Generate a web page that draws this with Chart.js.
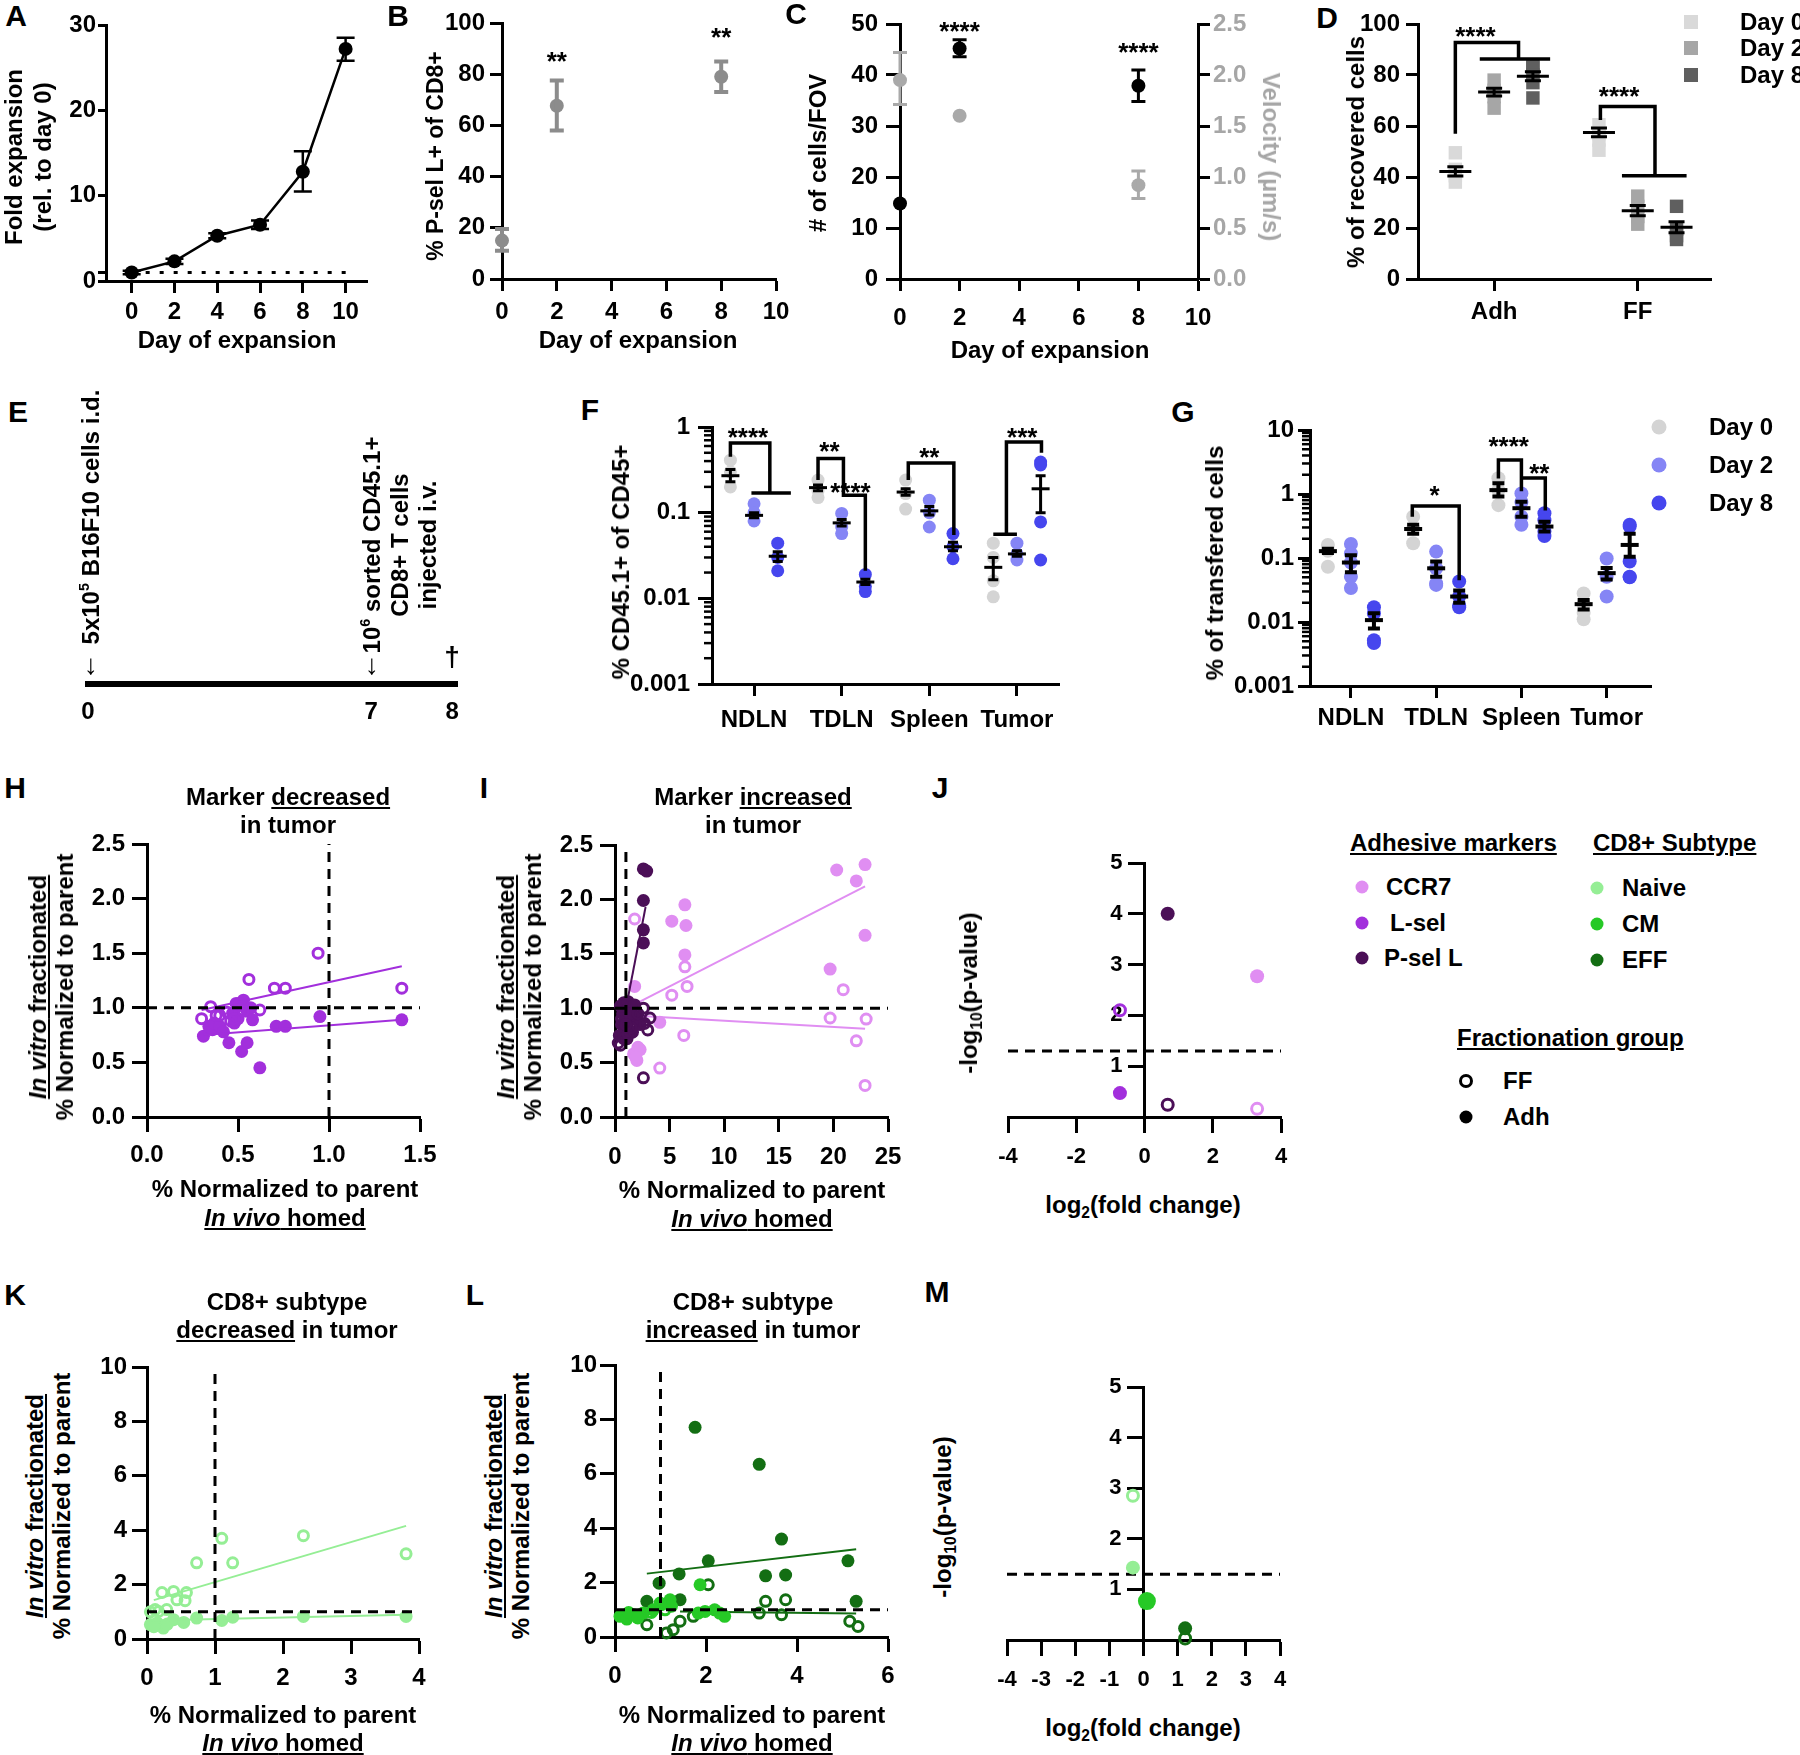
<!DOCTYPE html>
<html>
<head>
<meta charset="utf-8">
<title>T cell expansion and homing figure</title>
<script src="https://cdn.jsdelivr.net/npm/chart.js"></script>
<style>
  html, body { margin: 0; padding: 0; background: #fff; }
  #fig { position: relative; width: 1800px; height: 1755px; overflow: hidden;
         font-family: 'Liberation Sans', Arial, Helvetica, sans-serif; font-weight: bold; font-size: 24px; color: #000; }
  canvas { position: absolute; }
  .t { position: absolute; white-space: nowrap; text-align: center; line-height: 1; transform: translate(-50%, -50%); }
  .l { position: absolute; white-space: nowrap; line-height: 1; transform: translate(0, -50%); }
  .up { transform: translate(-50%, -50%) rotate(-90deg); }
  .down { transform: translate(-50%, -50%) rotate(90deg); }
  .lt { font-size: 30px; }
  .sq, .dot, .ring { position: absolute; transform: translate(-50%, -50%); }
  .sq { width: 14px; height: 14px; }
  .dot { width: 13px; height: 13px; border-radius: 50%; }
  .ring { width: 8px; height: 8px; border: 3px solid #000; border-radius: 50%; }
  sub { font-size: 0.65em; vertical-align: -0.3em; line-height: 0; }
  sup { font-size: 0.6em; vertical-align: 0.7em; line-height: 0; }
</style>
</head>
<body>
<div id="fig">
  <canvas id="cA"></canvas><canvas id="cB"></canvas><canvas id="cC"></canvas><canvas id="cD"></canvas>
  <canvas id="cE"></canvas><canvas id="cF"></canvas><canvas id="cG"></canvas>
  <canvas id="cH"></canvas><canvas id="cI"></canvas><canvas id="cJ"></canvas>
  <canvas id="cK"></canvas><canvas id="cL"></canvas><canvas id="cM"></canvas>

  <!-- panel letters -->
  <div class="t lt" style="left:16px;top:16px">A</div>
  <div class="t lt" style="left:398px;top:16px">B</div>
  <div class="t lt" style="left:796px;top:14px">C</div>
  <div class="t lt" style="left:1327px;top:18px">D</div>
  <div class="t lt" style="left:18px;top:412px">E</div>
  <div class="t lt" style="left:590px;top:410px">F</div>
  <div class="t lt" style="left:1183px;top:412px">G</div>
  <div class="t lt" style="left:15px;top:788px">H</div>
  <div class="t lt" style="left:484px;top:788px">I</div>
  <div class="t lt" style="left:940px;top:788px">J</div>
  <div class="t lt" style="left:15px;top:1295px">K</div>
  <div class="t lt" style="left:475px;top:1295px">L</div>
  <div class="t lt" style="left:937px;top:1292px">M</div>

  <!-- row 1 axis titles -->
  <div class="t up" style="left:28px;top:157px;line-height:29px">Fold expansion<br>(rel. to day 0)</div>
  <div class="t" style="left:237px;top:340px">Day of expansion</div>
  <div class="t up" style="left:435px;top:156px;font-size:23px">% P-sel L+ of CD8+</div>
  <div class="t" style="left:638px;top:340px">Day of expansion</div>
  <div class="t up" style="left:818px;top:153px"># of cells/FOV</div>
  <div class="t down" style="left:1271px;top:157px;color:#a6a6a6">Velocity (µm/s)</div>
  <div class="t" style="left:1050px;top:350px">Day of expansion</div>
  <div class="t up" style="left:1356px;top:152px">% of recovered cells</div>
  <div class="sq" style="left:1691px;top:22px;background:#d9d9d9"></div><div class="l" style="left:1740px;top:22px">Day 0</div>
  <div class="sq" style="left:1691px;top:48px;background:#a6a6a6"></div><div class="l" style="left:1740px;top:48px">Day 2</div>
  <div class="sq" style="left:1691px;top:75px;background:#5f5f5f"></div><div class="l" style="left:1740px;top:75px">Day 8</div>

  <!-- row 2 -->
  <div class="t up" style="left:91px;top:517px">5x10<sup>5</sup> B16F10 cells i.d.</div>
  <div class="t up" style="left:400px;top:545px;line-height:28px">10<sup>6</sup> sorted CD45.1+<br>CD8+ T cells<br>injected i.v.</div>
  <div class="t" style="left:91px;top:665px;font-weight:normal;font-size:28px">↓</div>
  <div class="t" style="left:372px;top:665px;font-weight:normal;font-size:28px">↓</div>
  <div class="t" style="left:452px;top:657px;font-size:28px">†</div>
  <div class="t up" style="left:621px;top:562px">% CD45.1+ of CD45+</div>
  <div class="t up" style="left:1215px;top:563px">% of transfered cells</div>
  <div class="dot" style="left:1659px;top:427px;background:#d4d4d4;width:15px;height:15px"></div><div class="l" style="left:1709px;top:427px">Day 0</div>
  <div class="dot" style="left:1659px;top:465px;background:#8585f5;width:15px;height:15px"></div><div class="l" style="left:1709px;top:465px">Day 2</div>
  <div class="dot" style="left:1659px;top:503px;background:#4646ee;width:15px;height:15px"></div><div class="l" style="left:1709px;top:503px">Day 8</div>

  <!-- row 3 -->
  <div class="t" style="left:288px;top:811px;line-height:28px">Marker <u>decreased</u><br>in tumor</div>
  <div class="t" style="left:285px;top:1203px;line-height:29px">% Normalized to parent<br><u><i>In vivo</i> homed</u></div>
  <div class="t up" style="left:51px;top:987px;line-height:27px"><u><i>In vitro</i> fractionated</u><br>% Normalized to parent</div>
  <div class="t" style="left:753px;top:811px;line-height:28px">Marker <u>increased</u><br>in tumor</div>
  <div class="t" style="left:752px;top:1204px;line-height:29px">% Normalized to parent<br><u><i>In vivo</i> homed</u></div>
  <div class="t up" style="left:519px;top:987px;line-height:27px"><u><i>In vitro</i> fractionated</u><br>% Normalized to parent</div>
  <div class="t up" style="left:969px;top:993px">-log<sub>10</sub>(p-value)</div>
  <div class="t" style="left:1143px;top:1205px">log<sub>2</sub>(fold change)</div>

  <div class="l" style="left:1350px;top:843px"><u>Adhesive markers</u></div>
  <div class="dot" style="left:1362px;top:887px;background:#e08ef2"></div><div class="l" style="left:1386px;top:887px">CCR7</div>
  <div class="dot" style="left:1362px;top:923px;background:#a22fdc"></div><div class="l" style="left:1390px;top:923px">L-sel</div>
  <div class="dot" style="left:1362px;top:958px;background:#4b0f57"></div><div class="l" style="left:1384px;top:958px">P-sel L</div>
  <div class="l" style="left:1593px;top:843px"><u>CD8+ Subtype</u></div>
  <div class="dot" style="left:1597px;top:888px;background:#95ee95"></div><div class="l" style="left:1622px;top:888px">Naive</div>
  <div class="dot" style="left:1597px;top:924px;background:#26c926"></div><div class="l" style="left:1622px;top:924px">CM</div>
  <div class="dot" style="left:1597px;top:960px;background:#136e13"></div><div class="l" style="left:1622px;top:960px">EFF</div>
  <div class="l" style="left:1457px;top:1038px"><u>Fractionation group</u></div>
  <div class="ring" style="left:1466px;top:1081px"></div><div class="l" style="left:1503px;top:1081px">FF</div>
  <div class="dot" style="left:1466px;top:1117px;background:#000"></div><div class="l" style="left:1503px;top:1117px">Adh</div>

  <!-- row 4 -->
  <div class="t" style="left:287px;top:1316px;line-height:28px">CD8+ subtype<br><u>decreased</u> in tumor</div>
  <div class="t" style="left:283px;top:1729px;line-height:28px">% Normalized to parent<br><u><i>In vivo</i> homed</u></div>
  <div class="t up" style="left:48px;top:1506px;line-height:27px"><u><i>In vitro</i> fractionated</u><br>% Normalized to parent</div>
  <div class="t" style="left:753px;top:1316px;line-height:28px">CD8+ subtype<br><u>increased</u> in tumor</div>
  <div class="t" style="left:752px;top:1729px;line-height:28px">% Normalized to parent<br><u><i>In vivo</i> homed</u></div>
  <div class="t up" style="left:507px;top:1506px;line-height:27px"><u><i>In vitro</i> fractionated</u><br>% Normalized to parent</div>
  <div class="t up" style="left:943px;top:1517px">-log<sub>10</sub>(p-value)</div>
  <div class="t" style="left:1143px;top:1728px">log<sub>2</sub>(fold change)</div>
</div>

<script>
// ---------------- data ----------------
// A: fold expansion
const expDays = [0, 2, 4, 6, 8, 10];
const foldMean = [1.0, 2.3, 5.3, 6.6, 12.8, 27.2];
const foldLow = [0.8, 2.0, 5.0, 6.1, 10.5, 25.8];
const foldHigh = [1.2, 2.6, 5.6, 7.1, 15.2, 28.5];
const foldRef = 1;

// B: % P-sel L+
const pselDays = [0, 2, 8];
const pselMean = [15, 67.7, 79];
const pselLow = [11, 58, 73];
const pselHigh = [19.5, 77.5, 85];
const pselStars = [[2, 87, '**'], [8, 96.5, '**']];

// C: cells/FOV (left) and velocity (right)
const flowDays = [0, 2, 8];
const cellsMean = [14.8, 45.2, 37.9];
const cellsLow = [14.8, 43.6, 34.8];
const cellsHigh = [14.8, 46.9, 41.0];
const veloMean = [1.95, 1.6, 0.92];
const veloLow = [1.71, 1.6, 0.79];
const veloHigh = [2.22, 1.6, 1.06];
const flowStars = [[2, 49.5, '****'], [8, 45.5, '****']];

// D: % recovered cells, groups Adh / FF, days 0, 2, 8
const fracGroups = ['Adh', 'FF'];
const recDay0 = [[49.5, 43, 40.5, 38], [60.5, 57, 54.5, 50.5]];
const recDay2 = [[78, 74, 71.5, 67], [32.5, 28.5, 24.5, 21.5]];
const recDay8 = [[83.5, 83, 80, 77, 71], [28.5, 19.5, 17, 15.5]];
const recMean = [[42.2, 73.3, 79.5], [57.5, 26.8, 20.3]];
const recSem = [[1.8, 1.5, 1.8], [1.7, 2.0, 2.2]];
const recBrackets = [
  [[0.73, 57], [0.73, 92.7], [1.17, 92.7], [1.17, 86.3]], [[0.9, 86.3], [1.39, 86.3]],
  [[1.74, 62.4], [1.74, 67.6], [2.12, 67.6], [2.12, 40.5]], [[1.89, 40.5], [2.34, 40.5]]
];
const recStars = [[0.87, 97, '****'], [1.87, 73.5, '****']];

// E: timeline
const eventLabels = ['0', '7', '8'];
const eventSlots = [0, 7, 9]; // schematic spacing as drawn

// F, G: organs x days
const organs = ['NDLN', 'TDLN', 'Spleen', 'Tumor'];
const dayOffset = [-0.27, 0, 0.27];
const fDay0 = [[0.41, 0.30, 0.20], [0.24, 0.18, 0.15], [0.24, 0.167, 0.11], [0.044, 0.03, 0.016, 0.0104]];
const fDay2 = [[0.127, 0.10, 0.08], [0.098, 0.068, 0.057], [0.14, 0.10, 0.068], [0.044, 0.033, 0.028]];
const fDay8 = [[0.044, 0.03, 0.021], [0.019, 0.0137, 0.012], [0.057, 0.04, 0.029], [0.39, 0.36, 0.078, 0.028]];
const fMean = [[0.27, 0.093, 0.031], [0.196, 0.076, 0.0155], [0.174, 0.105, 0.04], [0.023, 0.033, 0.19]];
const fLow = [[0.23, 0.087, 0.027], [0.18, 0.07, 0.0145], [0.16, 0.094, 0.036], [0.0165, 0.031, 0.10]];
const fHigh = [[0.32, 0.10, 0.035], [0.21, 0.083, 0.0167], [0.19, 0.118, 0.045], [0.03, 0.036, 0.27]];
const fBrackets = [
  [[0.73, 0.45], [0.73, 0.65], [1.18, 0.65], [1.18, 0.17]], [[0.97, 0.17], [1.42, 0.17]],
  [[1.73, 0.24], [1.73, 0.43], [2.02, 0.43], [2.02, 0.16], [2.27, 0.16], [2.27, 0.021]],
  [[2.76, 0.24], [2.76, 0.38], [3.28, 0.38], [3.28, 0.055]],
  [[3.73, 0.056], [4.0, 0.056]], [[3.88, 0.056], [3.88, 0.67], [4.28, 0.67], [4.28, 0.5]]
];
const fStars = [[0.93, 0.87, '****'], [1.86, 0.6, '**'], [2.1, 0.2, '****'], [3.0, 0.5, '**'], [4.06, 0.87, '***']];

const gDay0 = [[0.16, 0.13, 0.073], [0.44, 0.29, 0.17], [1.76, 1.15, 0.67], [0.028, 0.019, 0.014, 0.011]];
const gDay2 = [[0.166, 0.118, 0.085, 0.051, 0.034], [0.126, 0.069, 0.04, 0.038], [1.02, 0.75, 0.44, 0.33], [0.098, 0.051, 0.025]];
const gDay8 = [[0.017, 0.0136, 0.0052, 0.0047], [0.043, 0.025, 0.017, 0.018], [0.5, 0.39, 0.26, 0.22], [0.33, 0.31, 0.088, 0.051, 0.05]];
const gMean = [[0.128, 0.085, 0.0107], [0.284, 0.069, 0.025], [1.15, 0.6, 0.31], [0.019, 0.058, 0.16]];
const gLow = [[0.12, 0.06, 0.0079], [0.24, 0.051, 0.02], [0.91, 0.44, 0.26], [0.0157, 0.046, 0.105]];
const gHigh = [[0.14, 0.11, 0.0137], [0.33, 0.088, 0.031], [1.47, 0.76, 0.37], [0.022, 0.07, 0.24]];
const gBrackets = [
  [[1.72, 0.44], [1.72, 0.65], [2.27, 0.65], [2.27, 0.045]],
  [[2.73, 1.75], [2.73, 3.4], [3.0, 3.4], [3.0, 1.1]],
  [[3.0, 1.78], [3.28, 1.78], [3.28, 0.55]]
];
const gStars = [[1.98, 1.15, '*'], [2.85, 6.6, '****'], [3.21, 2.5, '**']];

// H: L-sel (marker decreased in tumor)
const hFFx = [0.30, 0.35, 0.38, 0.40, 0.44, 0.46, 0.48, 0.51, 0.53, 0.56, 0.62, 0.70, 0.76, 0.94, 1.40];
const hFFy = [0.90, 1.01, 0.93, 0.93, 0.96, 0.88, 0.90, 1.04, 0.97, 1.26, 0.98, 1.18, 1.18, 1.50, 1.18];
const hAdhx = [0.31, 0.34, 0.36, 0.37, 0.40, 0.42, 0.45, 0.47, 0.48, 0.49, 0.50, 0.52, 0.52, 0.53, 0.55, 0.55, 0.57, 0.58, 0.62, 0.71, 0.76, 0.95, 1.40];
const hAdhy = [0.74, 0.83, 0.80, 0.86, 0.83, 0.78, 0.68, 0.95, 0.86, 1.04, 0.90, 0.60, 1.02, 1.07, 0.68, 0.97, 1.00, 0.89, 0.45, 0.83, 0.83, 0.92, 0.89];
const hFitFF = [[0.30, 0.98], [1.40, 1.38]];
const hFitAdh = [[0.31, 0.75], [1.40, 0.89]];

// I: CCR7 and P-sel L (marker increased in tumor)
const iPselAdhx = [2.6, 2.9, 2.6, 2.6, 2.6, 0.5, 0.8, 1.0, 1.2, 1.5, 1.8, 0.6, 0.9, 1.3, 1.6, 2.0, 2.3, 0.4, 1.1, 0.7, 1.4];
const iPselAdhy = [2.28, 2.26, 1.99, 1.72, 1.60, 1.02, 1.05, 0.98, 1.06, 1.00, 1.03, 0.85, 0.80, 0.88, 0.78, 0.92, 0.85, 0.75, 0.72, 0.95, 0.95];
const iPselFFx = [0.3, 0.5, 0.8, 1.2, 1.5, 2.6, 3.2, 3.0, 2.7, 2.1, 2.6, 0.6, 1.0];
const iPselFFy = [0.68, 0.66, 0.72, 0.76, 0.82, 1.00, 0.91, 0.80, 0.86, 0.95, 0.36, 0.90, 0.85];
const iCcrAdhx = [1.8, 5.2, 6.4, 6.5, 6.4, 20.3, 22.1, 22.9, 22.9, 19.7, 4.1, 1.7, 2.0, 2.3, 2.1, 1.9];
const iCcrAdhy = [1.20, 1.80, 1.95, 1.76, 1.49, 2.27, 2.17, 2.32, 1.67, 1.36, 0.87, 0.58, 0.52, 0.62, 0.64, 0.55];
const iCcrFFx = [1.8, 5.2, 6.4, 6.6, 6.3, 4.1, 20.9, 19.7, 23.0, 22.1, 22.9];
const iCcrFFy = [1.82, 1.12, 1.38, 1.20, 0.75, 0.45, 1.17, 0.91, 0.90, 0.70, 0.29];
const iFitPsel = [[1.0, 1.0], [2.8, 1.93]];
const iFitCcrAdh = [[1.7, 1.03], [22.9, 2.12]];
const iFitCcrFF = [[2.0, 0.93], [22.9, 0.81]];

// J: volcano, adhesive markers (CCR7, L-sel, P-sel L)
const jAdhX = [3.3, -0.72, 0.68];
const jAdhY = [2.77, 0.47, 4.0];
const jFFX = [3.3, -0.72, 0.68];
const jFFY = [0.16, 2.1, 0.24];
const pCut = 1.3;
const volcYTicks = ['1', '2', '3', '4', '5'];

// K: naive (subtype decreased in tumor)
const kFFx = [1.10, 2.30, 0.73, 1.26, 3.81, 0.22, 0.39, 0.58, 0.44, 0.56, 0.12, 0.17, 0.29, 0.05];
const kFFy = [3.70, 3.80, 2.80, 2.80, 3.13, 1.71, 1.75, 1.71, 1.44, 1.41, 1.08, 1.01, 1.08, 1.00];
const kAdhx = [0.05, 0.15, 0.24, 0.39, 0.54, 0.73, 1.10, 1.26, 2.30, 3.81, 0.10, 0.30];
const kAdhy = [0.53, 0.59, 0.40, 0.71, 0.61, 0.77, 0.68, 0.80, 0.83, 0.83, 0.45, 0.55];
const kFitFF = [[0.1, 1.43], [3.81, 4.16]];
const kFitAdh = [[0.05, 0.68], [3.81, 0.89]];

// L: CM and EFF (subtype increased in tumor)
const lEffAdhx = [1.76, 3.17, 3.66, 2.05, 1.41, 3.31, 3.75, 0.97, 5.12, 5.30, 1.43, 0.70];
const lEffAdhy = [7.71, 6.35, 3.60, 2.80, 2.32, 2.25, 2.28, 1.98, 2.80, 1.31, 1.37, 1.31];
const lEffFFx = [2.05, 3.31, 3.75, 3.17, 3.66, 5.16, 5.34, 1.13, 1.28, 1.43, 0.70, 1.72];
const lEffFFy = [1.92, 1.31, 1.37, 0.88, 0.82, 0.58, 0.39, 0.15, 0.27, 0.58, 0.45, 0.76];
const lCmAdhx = [1.87, 0.11, 0.26, 0.40, 0.62, 0.84, 1.02, 1.21, 1.24, 1.83, 1.98, 2.19, 2.41, 2.30, 0.30, 0.50];
const lCmAdhy = [1.92, 0.76, 0.66, 0.82, 0.88, 1.00, 1.19, 1.37, 1.13, 0.88, 0.94, 1.00, 0.76, 0.88, 0.90, 0.70];
const lCmFFx = [0.99, 0.80, 1.10];
const lCmFFy = [1.25, 0.90, 1.00];
const lFitAdh = [[0.70, 2.33], [5.30, 3.23]];
const lFitFF = [[1.43, 0.94], [5.30, 0.86]];

// M: volcano, subtypes (Naive, CM, EFF)
const mAdhX = [-0.31, 0.1, 1.22];
const mAdhY = [1.43, 0.77, 0.23];
const mFFX = [-0.31, 1.22];
const mFFY = [2.85, 0.03];

// ---------------- colours ----------------
const recCol = ['#d9d9d9', '#a6a6a6', '#5f5f5f'];
const dayCol = ['#d4d4d4', '#8585f5', '#4646ee'];
const CCR7 = '#e08ef2', LSEL = '#a22fdc', PSEL = '#4b0f57';
const NAIVE = '#95ee95', CM = '#26c926', EFF = '#136e13';

// ---------------- chart setup ----------------
const FONT = "'Liberation Sans', Arial, Helvetica, sans-serif";
Chart.defaults.font.family = FONT;
Chart.defaults.font.weight = 'bold';
Chart.defaults.color = '#000';
Chart.defaults.animation = false;
Chart.defaults.plugins.legend.display = false;
Chart.defaults.plugins.tooltip.enabled = false;

// vertical error bars with caps, read from dataset.errLow / errHigh
const errorBars = {
  id: 'errorBars',
  afterDatasetsDraw(chart) {
    const ctx = chart.ctx;
    chart.data.datasets.forEach((ds, i) => {
      if (!ds.errLow) return;
      const meta = chart.getDatasetMeta(i);
      const ys = chart.scales[meta.yAxisID];
      ctx.save();
      ctx.strokeStyle = ds.errColor;
      ctx.lineWidth = ds.errWidth;
      meta.data.forEach((el, j) => {
        const lo = ds.errLow[j], hi = ds.errHigh[j];
        if (lo === hi) return;
        const x = el.x, y1 = ys.getPixelForValue(lo), y2 = ys.getPixelForValue(hi), c = ds.errCap;
        ctx.beginPath();
        ctx.moveTo(x, y1); ctx.lineTo(x, y2);
        ctx.moveTo(x - c, y1); ctx.lineTo(x + c, y1);
        ctx.moveTo(x - c, y2); ctx.lineTo(x + c, y2);
        ctx.stroke();
      });
      ctx.restore();
    });
  }
};

// significance asterisks placed at data points
const starLabels = {
  id: 'starLabels',
  afterDatasetsDraw(chart) {
    const ctx = chart.ctx;
    chart.data.datasets.forEach((ds, i) => {
      if (!ds.starText) return;
      const meta = chart.getDatasetMeta(i);
      ctx.save();
      ctx.font = 'bold ' + ds.starSize + 'px ' + FONT;
      ctx.fillStyle = '#000';
      ctx.textAlign = 'center';
      ctx.textBaseline = 'middle';
      meta.data.forEach((el, j) => ctx.fillText(ds.starText[j], el.x, el.y + ds.starSize * 0.25));
      ctx.restore();
    });
  }
};

// short minor ticks on log axes
const minorTicks = {
  id: 'minorTicks',
  afterDraw(chart) {
    const s = chart.scales.y;
    if (!s || s.type !== 'logarithmic') return;
    const ctx = chart.ctx;
    const x = chart.chartArea.left;
    ctx.save();
    ctx.strokeStyle = '#000';
    ctx.lineWidth = 2.5;
    for (let e = Math.round(Math.log10(s.min)); e < Math.round(Math.log10(s.max)); e++) {
      for (let k = 2; k <= 9; k++) {
        const y = s.getPixelForValue(k * Math.pow(10, e));
        ctx.beginPath(); ctx.moveTo(x, y); ctx.lineTo(x - 8, y); ctx.stroke();
      }
    }
    ctx.restore();
  }
};
Chart.register(errorBars, starLabels, minorTicks);

function ax(o) {
  const s = {
    type: o.type || 'linear', min: o.min, max: o.max,
    afterBuildTicks: sc => { sc.ticks = o.ticks.map(v => ({ value: v })); },
    border: { display: true, width: o.bw || 3, color: '#000' },
    grid: { display: true, drawOnChartArea: false, drawTicks: o.tl !== 0,
            tickLength: o.tl === undefined ? 12 : o.tl, tickWidth: 3, tickColor: '#000' },
    ticks: { autoSkip: false, maxRotation: 0, minRotation: 0,
             padding: o.pad === undefined ? 4 : o.pad, color: o.color || '#000',
             font: { size: o.size || 24, weight: 'bold' },
             callback: (v, i) => (o.labels ? o.labels[i] : String(v)) }
  };
  if (o.position) s.position = o.position;
  return s;
}

function xy(xs, ys) { return xs.map((x, i) => ({ x, y: ys[i] })); }
function pairs(list) { return list.map(p => ({ x: p[0], y: p[1] })); }

function dots(data, color, r, open, style) {
  return { type: 'scatter', data, pointStyle: style || 'circle',
           pointRadius: open ? r - 1.5 : r,
           pointBackgroundColor: open ? 'rgba(255,255,255,0)' : color,
           pointBorderColor: color, pointBorderWidth: open ? 3 : 0, clip: false };
}
function path(data, color, w, dash) {
  return { type: 'scatter', showLine: true, data, borderColor: color, borderWidth: w,
           borderDash: dash || [], pointRadius: 0, pointHoverRadius: 0, clip: false, tension: 0 };
}
function stars(list, size) {
  return { type: 'scatter', data: list.map(s => ({ x: s[0], y: s[1] })), starText: list.map(s => s[2]),
           starSize: size || 26, pointRadius: 0, clip: false };
}
function groupDots(groups, d, color, r, style) {
  const data = [];
  groups.forEach((vals, g) => vals.forEach(v => data.push({ x: g + 1 + dayOffset[d], y: v })));
  return dots(data, color, r, false, style);
}
function meanBars(means, lows, highs, halfW, cap, lw) {
  const data = [], lo = [], hi = [];
  means.forEach((row, g) => row.forEach((m, d) => {
    data.push({ x: g + 1 + dayOffset[d], y: m });
    lo.push(lows[g][d]); hi.push(highs[g][d]);
  }));
  return { type: 'scatter', data, pointStyle: 'line', pointRadius: halfW, pointBorderWidth: lw,
           pointBorderColor: '#000', errLow: lo, errHigh: hi, errCap: cap, errWidth: lw,
           errColor: '#000', clip: false };
}
function withErr(ds, lo, hi, cap, w, color) {
  return Object.assign(ds, { errLow: lo, errHigh: hi, errCap: cap, errWidth: w, errColor: color });
}

// place a canvas so that its chart area lands on the given box
function build(id, area, config, o) {
  const yw = o.yw || 0, yr = o.yr || 0, xh = o.xh || 70;
  const pl = o.pl || 0, pt = o.pt || 30, pr = o.pr || 30;
  const W = Math.round(area.r - area.l + pl + yw + yr + pr);
  const H = Math.round(area.b - area.t + pt + xh);
  const c = document.getElementById(id);
  c.style.left = (area.l - pl - yw) + 'px';
  c.style.top = (area.t - pt) + 'px';
  c.style.width = W + 'px';
  c.style.height = H + 'px';
  c.width = W; c.height = H;
  const sc = config.options.scales;
  if (sc.x) sc.x.afterFit = s => { s.height = xh; };
  if (sc.y && yw) sc.y.afterFit = s => { s.width = yw; };
  if (sc.y2) sc.y2.afterFit = s => { s.width = yr; };
  config.options.responsive = false;
  config.options.devicePixelRatio = 1;
  config.options.layout = { padding: { left: pl, top: pt, right: pr, bottom: 0 } };
  return new Chart(c, config);
}

// ---------------- A ----------------
build('cA', { l: 106, t: 25, r: 367, b: 281 }, {
  type: 'scatter',
  data: { datasets: [
    withErr(dots(xy(expDays, foldMean), '#000', 7), foldLow, foldHigh, 9, 2.5, '#000'),
    path(xy(expDays, foldMean), '#000', 2.5),
    path(pairs([[0, foldRef], [10.2, foldRef]]), '#000', 3, [4, 10])
  ] },
  options: { scales: {
    x: ax({ min: -1.2, max: 11, ticks: [0, 2, 4, 6, 8, 10], pad: 5 }),
    y: ax({ min: 0, max: 30, ticks: [0, 1, 10, 20, 30], labels: ['0', '', '10', '20', '30'], tl: 8, pad: 2 })
  } }
}, { yw: 70 });

// ---------------- B ----------------
build('cB', { l: 502, t: 23, r: 776, b: 279 }, {
  type: 'scatter',
  data: { datasets: [
    stars(pselStars),
    withErr(dots(xy(pselDays, pselMean), '#8c8c8c', 7), pselLow, pselHigh, 7, 4, '#8c8c8c')
  ] },
  options: { scales: {
    x: ax({ min: 0, max: 10, ticks: [0, 2, 4, 6, 8, 10], pad: 7 }),
    y: ax({ min: 0, max: 100, ticks: [0, 20, 40, 60, 80, 100], pad: 5 })
  } }
}, { yw: 70 });

// ---------------- C ----------------
build('cC', { l: 900, t: 24, r: 1198, b: 279 }, {
  type: 'scatter',
  data: { datasets: [
    stars(flowStars),
    withErr(dots(xy(flowDays, cellsMean), '#000', 7), cellsLow, cellsHigh, 7, 3, '#000'),
    Object.assign(withErr(dots(xy(flowDays, veloMean), '#a9a9a9', 7), veloLow, veloHigh, 7, 3, '#a9a9a9'), { yAxisID: 'y2' })
  ] },
  options: { scales: {
    x: ax({ min: 0, max: 10, ticks: [0, 2, 4, 6, 8, 10], pad: 13 }),
    y: ax({ min: 0, max: 50, ticks: [0, 10, 20, 30, 40, 50], tl: 14, pad: 8 }),
    y2: ax({ min: 0, max: 2.5, ticks: [0, 0.5, 1, 1.5, 2, 2.5], labels: ['0.0', '0.5', '1.0', '1.5', '2.0', '2.5'],
             position: 'right', color: '#a6a6a6', pad: 3 })
  } }
}, { yw: 70, yr: 70 });

// ---------------- D ----------------
const recLow = recMean.map((row, g) => row.map((m, d) => m - recSem[g][d]));
const recHigh = recMean.map((row, g) => row.map((m, d) => m + recSem[g][d]));
build('cD', { l: 1418, t: 24, r: 1720, b: 279 }, {
  type: 'scatter',
  data: { datasets: [
    stars(recStars),
    meanBars(recMean, recLow, recHigh, 16, 8, 3),
    ...recBrackets.map(b => path(pairs(b), '#000', 3.5)),
    groupDots(recDay8, 2, recCol[2], 9.5, 'rect'),
    groupDots(recDay2, 1, recCol[1], 9.5, 'rect'),
    groupDots(recDay0, 0, recCol[0], 9.5, 'rect')
  ] },
  options: { scales: {
    x: ax({ min: 0.47, max: 2.51, ticks: [1, 2], labels: fracGroups, pad: 7 }),
    y: ax({ min: 0, max: 100, ticks: [0, 20, 40, 60, 80, 100], pad: 6 })
  } }
}, { yw: 75, pr: 10 });

// ---------------- E ----------------
build('cE', { l: 88, t: 640, r: 457, b: 684 }, {
  type: 'scatter',
  data: { datasets: [] },
  options: { scales: {
    x: ax({ min: 0, max: 9.12, ticks: eventSlots, labels: eventLabels, tl: 0, bw: 6, pad: 14 }),
    y: { display: false, min: 0, max: 1 }
  } }
}, { pl: 30, xh: 60 });

// ---------------- F ----------------
build('cF', { l: 712, t: 427, r: 1059, b: 684 }, {
  type: 'scatter',
  data: { datasets: [
    stars(fStars),
    meanBars(fMean, fLow, fHigh, 9, 5, 3),
    ...fBrackets.map(b => path(pairs(b), '#000', 3.5)),
    groupDots(fDay8, 2, dayCol[2], 6.5),
    groupDots(fDay2, 1, dayCol[1], 6.5),
    groupDots(fDay0, 0, dayCol[0], 6.5)
  ] },
  options: { scales: {
    x: ax({ min: 0.52, max: 4.48, ticks: [1, 2, 3, 4], labels: organs, pad: 10 }),
    y: ax({ type: 'logarithmic', min: 0.001, max: 1, ticks: [0.001, 0.01, 0.1, 1],
            labels: ['0.001', '0.01', '0.1', '1'], tl: 14, pad: 8 })
  } }
}, { yw: 95 });

// ---------------- G ----------------
build('cG', { l: 1310, t: 430, r: 1651, b: 686 }, {
  type: 'scatter',
  data: { datasets: [
    stars(gStars),
    meanBars(gMean, gLow, gHigh, 9, 6, 4),
    ...gBrackets.map(b => path(pairs(b), '#000', 3.5)),
    groupDots(gDay8, 2, dayCol[2], 7),
    groupDots(gDay2, 1, dayCol[1], 7),
    groupDots(gDay0, 0, dayCol[0], 7)
  ] },
  options: { scales: {
    x: ax({ min: 0.52, max: 4.52, ticks: [1, 2, 3, 4], labels: organs, pad: 6 }),
    y: ax({ type: 'logarithmic', min: 0.001, max: 10, ticks: [0.001, 0.01, 0.1, 1, 10],
            labels: ['0.001', '0.01', '0.1', '1', '10'], tl: 12, pad: 4 })
  } }
}, { yw: 95 });

// ---------------- H ----------------
const dashRef = [10, 7];
build('cH', { l: 147, t: 844, r: 420, b: 1117 }, {
  type: 'scatter',
  data: { datasets: [
    path(pairs([[0, 1], [1.5, 1]]), '#000', 3, dashRef),
    path(pairs([[1, 0], [1, 2.5]]), '#000', 3, dashRef),
    path(pairs(hFitFF), LSEL, 2),
    path(pairs(hFitAdh), LSEL, 2),
    dots(xy(hFFx, hFFy), LSEL, 6.5, true),
    dots(xy(hAdhx, hAdhy), LSEL, 6.5)
  ] },
  options: { scales: {
    x: ax({ min: 0, max: 1.5, ticks: [0, 0.5, 1, 1.5], labels: ['0.0', '0.5', '1.0', '1.5'], tl: 15, pad: 9 }),
    y: ax({ min: 0, max: 2.5, ticks: [0, 0.5, 1, 1.5, 2, 2.5], labels: ['0.0', '0.5', '1.0', '1.5', '2.0', '2.5'], tl: 15, pad: 7 })
  } }
}, { yw: 70 });

// ---------------- I ----------------
build('cI', { l: 615, t: 845, r: 888, b: 1117 }, {
  type: 'scatter',
  data: { datasets: [
    path(pairs([[0, 1], [25, 1]]), '#000', 3, dashRef),
    path(pairs([[1, 0], [1, 2.5]]), '#000', 3, dashRef),
    path(pairs(iFitPsel), PSEL, 2),
    dots(xy(iPselFFx, iPselFFy), PSEL, 6.5, true),
    dots(xy(iPselAdhx, iPselAdhy), PSEL, 6.5),
    path(pairs(iFitCcrAdh), CCR7, 2),
    path(pairs(iFitCcrFF), CCR7, 2),
    dots(xy(iCcrFFx, iCcrFFy), CCR7, 6.5, true),
    dots(xy(iCcrAdhx, iCcrAdhy), CCR7, 6.5)
  ] },
  options: { scales: {
    x: ax({ min: 0, max: 25, ticks: [0, 5, 10, 15, 20, 25], tl: 15, pad: 11 }),
    y: ax({ min: 0, max: 2.5, ticks: [0, 0.5, 1, 1.5, 2, 2.5], labels: ['0.0', '0.5', '1.0', '1.5', '2.0', '2.5'], tl: 15, pad: 7 })
  } }
}, { yw: 70 });

// ---------------- J ----------------
// the y axis sits at x = 0; labels end at the axis there, so an em space pushes them past the tick marks
const volcLabels = volcYTicks.map(s => s + '\u2003');
const jCols = [CCR7, LSEL, PSEL];
build('cJ', { l: 1008, t: 863, r: 1281, b: 1117 }, {
  type: 'scatter',
  data: { datasets: [
    dots(xy(jFFX, jFFY), jCols, 7, true),
    dots(xy(jAdhX, jAdhY), jCols, 7),
    path(pairs([[-4, pCut], [4, pCut]]), '#000', 3, dashRef)
  ] },
  options: { scales: {
    x: ax({ min: -4, max: 4, ticks: [-4, -2, 0, 2, 4], labels: ['-4', '-2', '0', '2', '4'], tl: 16, pad: 11, size: 22 }),
    y: ax({ min: 0, max: 5, ticks: [1, 2, 3, 4, 5], labels: volcLabels, tl: 15, pad: 6, size: 22, position: { x: 0 } })
  } }
}, { pl: 40 });

// ---------------- K ----------------
build('cK', { l: 147, t: 1367, r: 419, b: 1639 }, {
  type: 'scatter',
  data: { datasets: [
    path(pairs([[0, 1], [4, 1]]), '#000', 3, dashRef),
    path(pairs([[1, 0], [1, 10]]), '#000', 3, dashRef),
    path(pairs(kFitFF), NAIVE, 2),
    path(pairs(kFitAdh), NAIVE, 2),
    dots(xy(kFFx, kFFy), NAIVE, 6.5, true),
    dots(xy(kAdhx, kAdhy), NAIVE, 6.5)
  ] },
  options: { scales: {
    x: ax({ min: 0, max: 4, ticks: [0, 1, 2, 3, 4], tl: 15, pad: 10 }),
    y: ax({ min: 0, max: 10, ticks: [0, 2, 4, 6, 8, 10], tl: 15, pad: 5 })
  } }
}, { yw: 70 });

// ---------------- L ----------------
build('cL', { l: 615, t: 1365, r: 888, b: 1637 }, {
  type: 'scatter',
  data: { datasets: [
    path(pairs([[0, 1], [6, 1]]), '#000', 3, dashRef),
    path(pairs([[1, 0], [1, 10]]), '#000', 3, dashRef),
    dots(xy(lCmFFx, lCmFFy), CM, 6.5, true),
    dots(xy(lCmAdhx, lCmAdhy), CM, 6.5),
    path(pairs(lFitAdh), EFF, 2),
    path(pairs(lFitFF), EFF, 2),
    dots(xy(lEffFFx, lEffFFy), EFF, 6.5, true),
    dots(xy(lEffAdhx, lEffAdhy), EFF, 6.5)
  ] },
  options: { scales: {
    x: ax({ min: 0, max: 6, ticks: [0, 2, 4, 6], tl: 15, pad: 10 }),
    y: ax({ min: 0, max: 10, ticks: [0, 2, 4, 6, 8, 10], tl: 15, pad: 3 })
  } }
}, { yw: 70 });

// ---------------- M ----------------
const mAdhCols = [NAIVE, CM, EFF];
const mFFCols = [NAIVE, EFF];
const mAdhDots = dots(xy(mAdhX, mAdhY), mAdhCols, 7);
mAdhDots.pointRadius = [7, 9, 7];
build('cM', { l: 1007, t: 1387, r: 1280, b: 1640 }, {
  type: 'scatter',
  data: { datasets: [
    dots(xy(mFFX, mFFY), mFFCols, 7, true),
    mAdhDots,
    path(pairs([[-4, pCut], [4, pCut]]), '#000', 3, dashRef)
  ] },
  options: { scales: {
    x: ax({ min: -4, max: 4, ticks: [-4, -3, -2, -1, 0, 1, 2, 3, 4],
            labels: ['-4', '-3', '-2', '-1', '0', '1', '2', '3', '4'], tl: 16, pad: 11, size: 22 }),
    y: ax({ min: 0, max: 5, ticks: [1, 2, 3, 4, 5], labels: volcLabels, tl: 15, pad: 8, size: 22, position: { x: 0 } })
  } }
}, { pl: 40 });
</script>
</body>
</html>
